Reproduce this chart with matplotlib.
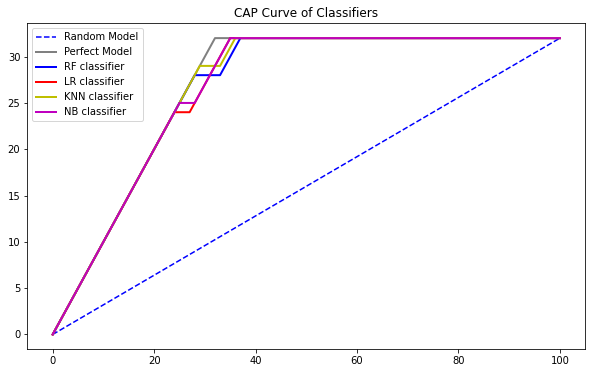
import matplotlib
matplotlib.use("Agg")
import matplotlib.pyplot as plt

random_x = [0, 100]
random_y = [0, 32]
perfect_x = [0, 32, 100]
perfect_y = [0, 32, 32]
rf_x = [0, 28, 33, 37, 100]
rf_y = [0, 28, 28, 32, 32]
lr_x = [0, 24, 27, 35, 100]
lr_y = [0, 24, 24, 32, 32]
knn_x = [0, 29, 33, 36, 100]
knn_y = [0, 29, 29, 32, 32]
nb_x = [0, 25, 28, 35, 100]
nb_y = [0, 25, 25, 32, 32]

fig = plt.figure(figsize=(592/72, 373/72), dpi=72)
ax = fig.add_axes([27.3/592, 1-349.3/373, 558/592, 326/373])
ax.plot(random_x, random_y, 'b--', label='Random Model')
ax.plot(perfect_x, perfect_y, color='grey', linewidth=2, label='Perfect Model')
ax.plot(rf_x, rf_y, color='b', linewidth=2, label='RF classifier')
ax.plot(lr_x, lr_y, color='r', linewidth=2, label='LR classifier')
ax.plot(knn_x, knn_y, color='y', linewidth=2, label='KNN classifier')
ax.plot(nb_x, nb_y, color='m', linewidth=2, label='NB classifier')
ax.set_title('CAP Curve of Classifiers')
ax.legend(loc='upper left')
fig.savefig('out.png', dpi=72)
